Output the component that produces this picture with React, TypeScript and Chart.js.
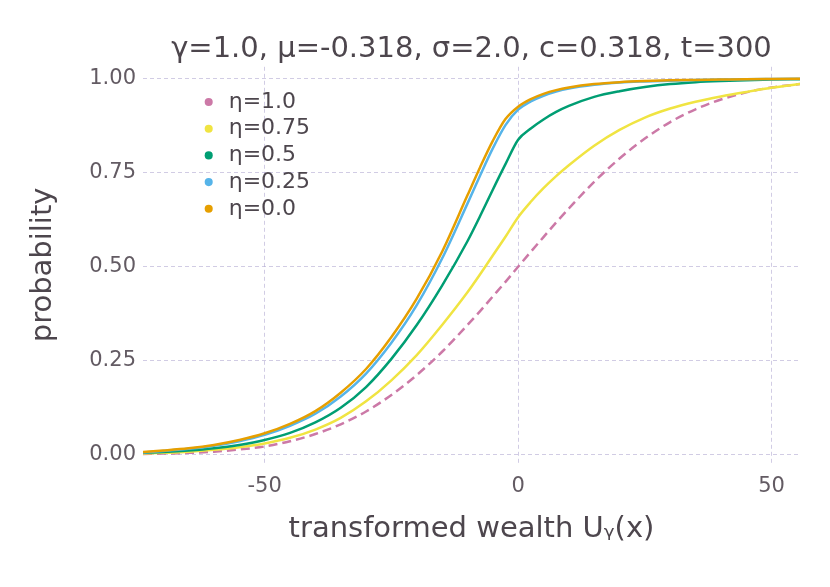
import React, { useEffect, useRef } from 'react';
import { Chart, registerables } from 'chart.js';

Chart.register(...registerables);

// transformed wealth sample positions
const wealth = [-74, -70, -65, -60, -55, -50, -45, -40, -35, -30, -25, -20, -15, -10, -7.5, -5, -2.5, 0, 2.5, 5, 7.5, 10, 15, 20, 25, 30, 35, 40, 45, 50, 55.6];

// cumulative probability per eta
const eta00 = [0.007, 0.011, 0.017, 0.026, 0.039, 0.057, 0.082, 0.116, 0.165, 0.228, 0.313, 0.415, 0.54, 0.69, 0.765, 0.835, 0.893, 0.926, 0.946, 0.96, 0.97, 0.977, 0.986, 0.991, 0.994, 0.996, 0.997, 0.998, 0.999, 0.9995, 1.0];
const eta025 = [0.006, 0.01, 0.016, 0.024, 0.036, 0.053, 0.077, 0.109, 0.155, 0.216, 0.298, 0.398, 0.522, 0.668, 0.743, 0.815, 0.877, 0.918, 0.94, 0.955, 0.966, 0.974, 0.984, 0.99, 0.993, 0.995, 0.997, 0.998, 0.999, 0.9995, 1.0];
const eta05 = [0.005, 0.007, 0.011, 0.017, 0.026, 0.039, 0.058, 0.086, 0.125, 0.18, 0.255, 0.345, 0.45, 0.568, 0.635, 0.705, 0.773, 0.838, 0.868, 0.892, 0.912, 0.928, 0.952, 0.967, 0.978, 0.986, 0.991, 0.994, 0.996, 0.998, 0.999];
const eta075 = [0.003, 0.005, 0.008, 0.013, 0.02, 0.03, 0.045, 0.067, 0.098, 0.142, 0.198, 0.265, 0.345, 0.432, 0.48, 0.53, 0.58, 0.632, 0.673, 0.709, 0.741, 0.77, 0.822, 0.864, 0.897, 0.921, 0.939, 0.953, 0.965, 0.976, 0.986];
const eta10 = [0.002, 0.003, 0.005, 0.008, 0.014, 0.022, 0.036, 0.055, 0.081, 0.115, 0.159, 0.212, 0.274, 0.345, 0.382, 0.421, 0.46, 0.5, 0.54, 0.579, 0.618, 0.655, 0.726, 0.788, 0.841, 0.885, 0.919, 0.945, 0.964, 0.977, 0.986];

const seriesLabels = ['η=0.0', 'η=0.25', 'η=0.5', 'η=0.75', 'η=1.0'];
const seriesColors = ['#E69F00', '#56B4E9', '#009E73', '#F0E442', '#CC79A7'];

const xTicks = [-50, 0, 50];
const yTicks = [0, 0.25, 0.5, 0.75, 1.0];

const TEXT = '#4d464d';
const TICK = '#635b63';
const GRID = 'rgba(172, 162, 206, 0.55)';

// move the legend to the upper left inside the plot
const legendOffset = {
    id: 'legendOffset',
    afterLayout(chart: any) {
        const lg = chart.legend;
        const area = chart.chartArea;
        if (!lg || !area) return;
        lg.left = area.left + 52;
        lg.top = area.top + 19.5;
        lg.right = lg.left + lg.width;
        lg.bottom = area.bottom;
    }
};

export default function App() {
    const canvasRef = useRef<HTMLCanvasElement | null>(null);
    const chartRef = useRef<Chart<"line"> | null>(null);

    useEffect(() => {
        document.body.style.margin = '0';
        if (!canvasRef.current) return;
        if (chartRef.current) chartRef.current.destroy();

        Chart.defaults.font.family = "'DejaVu Sans', sans-serif";

        const all = [eta00, eta025, eta05, eta075, eta10];
        const datasets = all.map((vals, i) => ({
            label: seriesLabels[i],
            data: wealth.map((x, j) => ({ x, y: vals[j] })),
            borderColor: seriesColors[i],
            backgroundColor: seriesColors[i],
            borderWidth: 2.5,
            borderDash: i === 4 ? [9, 5] : [],
            pointRadius: 0,
            pointHoverRadius: 0,
            pointBorderWidth: 0,
            cubicInterpolationMode: 'monotone' as const,
            fill: false,
        }));

        chartRef.current = new Chart(canvasRef.current, {
            type: 'line',
            data: { datasets },
            plugins: [legendOffset],
            options: {
                animation: false,
                responsive: true,
                maintainAspectRatio: false,
                layout: { padding: { left: 0, right: 30, top: 0, bottom: 0 } },
                plugins: {
                    title: {
                        display: true,
                        text: 'γ=1.0, μ=-0.318, σ=2.0, c=0.318, t=300',
                        color: TEXT,
                        font: { size: 29, weight: 'normal' },
                        padding: { top: 32, bottom: 0 },
                        fullSize: false,
                    },
                    legend: {
                        position: 'chartArea',
                        align: 'start',
                        reverse: true,
                        labels: {
                            usePointStyle: true,
                            pointStyle: 'circle',
                            boxWidth: 18,
                            boxHeight: 5.7,
                            padding: 4.7,
                            color: TEXT,
                            font: { size: 22 },
                        },
                    },
                    tooltip: { enabled: false },
                },
                scales: {
                    x: {
                        type: 'linear',
                        min: -74,
                        max: 55.6,
                        afterBuildTicks: (s: any) => { s.ticks = xTicks.map(v => ({ value: v })); },
                        afterFit: (s: any) => { s.height = 124; },
                        ticks: { color: TICK, font: { size: 21 }, padding: 11, maxRotation: 0 },
                        grid: { color: GRID, drawTicks: false, lineWidth: 1 },
                        border: { display: false, dash: [4, 3] },
                        title: {
                            display: true,
                            text: 'transformed wealth Uᵧ(x)',
                            color: TEXT,
                            font: { size: 29 },
                            padding: { top: 0, bottom: 40 },
                        },
                    },
                    y: {
                        type: 'linear',
                        min: -0.022,
                        max: 1.032,
                        afterBuildTicks: (s: any) => { s.ticks = yTicks.map(v => ({ value: v })); },
                        afterFit: (s: any) => { s.width = 143; },
                        ticks: {
                            color: TICK,
                            font: { size: 21 },
                            padding: 7,
                            callback: (v: any) => Number(v).toFixed(2),
                        },
                        grid: { color: GRID, drawTicks: false, lineWidth: 1 },
                        border: { display: false, dash: [4, 3] },
                        title: {
                            display: true,
                            text: 'probability',
                            color: TEXT,
                            font: { size: 29 },
                            padding: { top: 26, bottom: 0 },
                        },
                    },
                },
            },
        });

        return () => {
            if (chartRef.current) {
                chartRef.current.destroy();
                chartRef.current = null;
            }
        };
    }, []);

    return (
        <div style={{ width: 830, height: 587, position: 'relative' }}>
            <canvas ref={canvasRef}></canvas>
        </div>
    );
}
